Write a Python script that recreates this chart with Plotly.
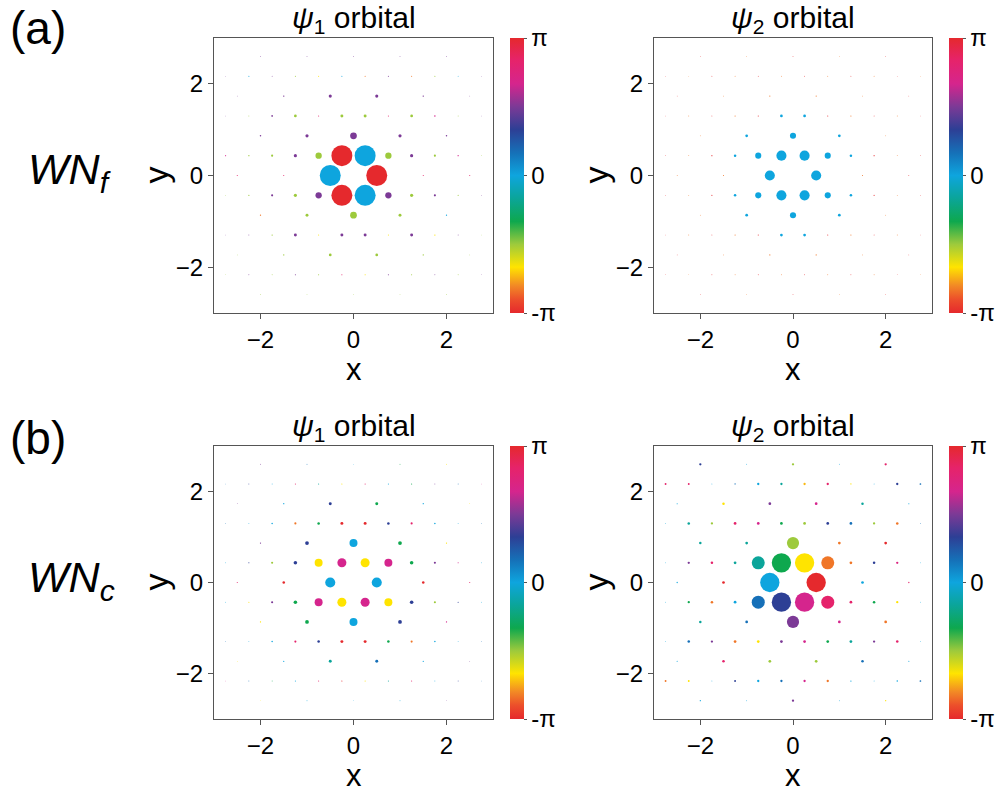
import math
import plotly.graph_objects as go

# ---------------- lattice rows (kagome sites) ----------------
ROW_K = [6, 5, 4, 3, 2, 1, 0, -1, -2, -3, -4, -5, -6]
ROW_DY = 0.4330
X_ODD = [-2.75, -2.25, -1.75, -1.25, -0.75, -0.25, 0.25, 0.75, 1.25, 1.75, 2.25, 2.75]
X_MOD0 = [-2.5, -1.5, -0.5, 0.5, 1.5, 2.5]
X_MOD2 = [-2, -1, 0, 1, 2]

# ---------------- amplitudes and phases, row by row ----------------
A1_AMP = [
    [0.04, 0.04, 0.04, 0.04, 0.04],
    [0.03, 0.05, 0.04, 0.05, 0.05, 0.05, 0.05, 0.05, 0.05, 0.05, 0.04, 0.03],
    [0.03, 0.07, 0.15, 0.15, 0.07, 0.03],
    [0.03, 0.04, 0.08, 0.13, 0.05, 0.14, 0.14, 0.05, 0.13, 0.07, 0.04, 0.03],
    [0.07, 0.15, 0.32, 0.15, 0.07],
    [0.05, 0.06, 0.10, 0.15, 0.30, 1.00, 1.00, 0.30, 0.15, 0.10, 0.06, 0.03],
    [0.05, 0.05, 1.00, 1.00, 0.05, 0.05],
    [0.03, 0.06, 0.10, 0.15, 0.30, 1.00, 1.00, 0.30, 0.15, 0.10, 0.05, 0.03],
    [0.06, 0.14, 0.32, 0.14, 0.06],
    [0.03, 0.04, 0.06, 0.14, 0.05, 0.14, 0.14, 0.05, 0.14, 0.06, 0.04, 0.03],
    [0.03, 0.06, 0.13, 0.13, 0.06, 0.03],
    [0.03, 0.04, 0.04, 0.05, 0.05, 0.05, 0.05, 0.05, 0.05, 0.04, 0.04, 0.03],
    [0.04, 0.03, 0.03, 0.03, 0.04],
]
A1_PH = [
    [1.57, 1.57, 1.57, 1.57, 1.57],
    [1.57, 0.0, 1.57, -1.57, -2.09, 0.0, -2.62, 1.57, -2.62, -1.57, 0.0, 1.57],
    [1.57, 1.57, 1.57, 1.57, 1.57, 1.57],
    [1.57, -1.57, 1.57, -1.57, 2.62, -1.57, -1.57, 2.62, -1.57, 2.09, -1.57, 1.57],
    [1.57, 1.57, 1.57, 1.57, 1.57],
    [2.09, -1.57, -1.57, 1.57, -1.57, 3.14, 0.0, -1.57, 1.57, -1.57, 2.09, -1.57],
    [2.62, 2.62, 0.0, 3.14, 2.62, 2.62],
    [-1.57, -1.57, 1.57, -1.57, 1.57, 3.14, 0.0, 1.57, -1.57, 1.57, -1.57, 1.57],
    [-2.62, -1.57, -1.57, -1.57, 0.0],
    [1.57, 1.57, -1.57, 1.57, -2.09, 1.57, 1.57, -2.09, 1.57, -2.09, 1.57, -1.57],
    [-1.57, -1.57, -1.57, -1.57, -1.57, -1.57],
    [-1.57, 1.57, -1.57, 1.57, -1.57, 2.62, -2.09, 1.57, -1.57, 1.57, -1.57, 1.57],
    [-1.57, -1.57, -1.57, -1.57, -1.57],
]

A2_AMP = [
    [0.03, 0.03, 0.04, 0.03, 0.03],
    [0.03, 0.03, 0.04, 0.04, 0.04, 0.04, 0.04, 0.04, 0.04, 0.04, 0.03, 0.03],
    [0.03, 0.04, 0.05, 0.05, 0.04, 0.03],
    [0.03, 0.04, 0.04, 0.05, 0.05, 0.13, 0.13, 0.05, 0.05, 0.04, 0.04, 0.03],
    [0.04, 0.13, 0.29, 0.13, 0.04],
    [0.03, 0.04, 0.05, 0.12, 0.29, 0.48, 0.48, 0.29, 0.12, 0.05, 0.04, 0.03],
    [0.04, 0.05, 0.48, 0.48, 0.05, 0.04],
    [0.03, 0.04, 0.05, 0.12, 0.29, 0.48, 0.48, 0.29, 0.12, 0.05, 0.04, 0.03],
    [0.04, 0.13, 0.29, 0.13, 0.04],
    [0.03, 0.04, 0.04, 0.05, 0.05, 0.13, 0.13, 0.05, 0.05, 0.04, 0.04, 0.03],
    [0.03, 0.04, 0.05, 0.05, 0.04, 0.03],
    [0.03, 0.03, 0.04, 0.04, 0.04, 0.04, 0.04, 0.04, 0.04, 0.04, 0.03, 0.03],
    [0.03, 0.03, 0.04, 0.03, 0.03],
]
A2_PH = [
    [3.14, -2.62, 3.14, -2.62, 3.14],
    [3.14, -2.62, 3.14, -2.62, 3.14, -2.62, 3.14, -2.62, 3.14, -2.62, 3.14, -2.62],
    [3.14, -2.62, -2.62, -2.62, -2.62, 3.14],
    [3.14, -2.62, 3.14, -2.62, 3.14, 0.0, 0.0, 3.14, -2.62, 3.14, -2.62, 3.14],
    [-2.62, 0.0, 0.0, 0.0, -2.62],
    [3.14, -2.62, 3.14, 0.0, 0.0, 0.0, 0.0, 0.0, 0.0, 3.14, -2.62, 3.14],
    [-2.62, -2.62, 0.0, 0.0, -2.62, 3.14],
    [3.14, -2.62, 3.14, 0.0, 0.0, 0.0, 0.0, 0.0, 0.0, 3.14, -2.62, 3.14],
    [-2.62, 0.0, 0.0, 0.0, -2.62],
    [3.14, -2.62, 3.14, -2.62, 3.14, 0.0, 0.0, 3.14, -2.62, 3.14, -2.62, 3.14],
    [3.14, -2.62, -2.62, -2.62, -2.62, 3.14],
    [3.14, -2.62, 3.14, -2.62, 3.14, -2.62, 3.14, -2.62, 3.14, -2.62, 3.14, -2.62],
    [3.14, -2.62, 3.14, -2.62, 3.14],
]

B1_AMP = [
    [0.04, 0.04, 0.03, 0.04, 0.04],
    [0.03, 0.04, 0.04, 0.05, 0.05, 0.05, 0.05, 0.05, 0.05, 0.04, 0.04, 0.03],
    [0.03, 0.06, 0.14, 0.14, 0.06, 0.03],
    [0.03, 0.04, 0.07, 0.10, 0.12, 0.14, 0.14, 0.12, 0.10, 0.07, 0.04, 0.03],
    [0.06, 0.18, 0.38, 0.18, 0.06],
    [0.04, 0.05, 0.10, 0.17, 0.38, 0.43, 0.43, 0.38, 0.17, 0.10, 0.05, 0.04],
    [0.05, 0.12, 0.48, 0.48, 0.12, 0.05],
    [0.04, 0.05, 0.10, 0.17, 0.38, 0.43, 0.43, 0.38, 0.17, 0.10, 0.05, 0.04],
    [0.06, 0.18, 0.38, 0.18, 0.06],
    [0.03, 0.04, 0.07, 0.10, 0.12, 0.14, 0.14, 0.12, 0.10, 0.07, 0.04, 0.03],
    [0.03, 0.06, 0.14, 0.14, 0.06, 0.03],
    [0.03, 0.04, 0.04, 0.05, 0.05, 0.05, 0.05, 0.05, 0.05, 0.04, 0.04, 0.03],
    [0.03, 0.04, 0.03, 0.04, 0.03],
]
B1_PH = [
    [1.57, 0.52, 0.0, -1.05, -2.09],
    [0.52, 1.05, 0.0, 2.62, -0.52, -2.09, 2.62, 0.0, -1.05, 1.57, 0.52, 2.09],
    [1.57, 0.0, 1.05, -1.05, 0.0, -2.09],
    [0.52, 0.0, 0.0, -2.62, -1.05, 3.14, 3.14, 1.05, 2.62, 0.0, 0.0, 0.52],
    [1.57, 1.05, 0.0, -1.05, -2.09],
    [0.0, 1.05, -1.57, 1.05, -2.09, 2.09, -2.09, 2.09, -1.05, 1.57, 2.09, 0.0],
    [2.62, 3.14, 0.0, 0.0, 3.14, 2.62],
    [0.0, -2.09, 1.57, -1.05, 2.09, -2.09, 2.09, -2.09, 1.05, -1.57, 1.05, 0.0],
    [-2.09, -1.05, 0.0, 1.05, 2.09],
    [0.52, 0.0, 0.0, 2.62, 1.05, 3.14, 3.14, -1.05, -2.62, 0.0, 0.0, 0.52],
    [-2.09, 0.0, -0.52, 0.52, 0.0, 1.57],
    [2.09, 0.52, -1.05, 0.0, 2.62, 3.14, -2.09, -0.52, 2.62, 0.0, 1.05, 0.52],
    [-2.09, 0.0, 0.0, 0.0, 1.57],
]

B2_AMP = [
    [0.11, 0.04, 0.11, 0.04, 0.11],
    [0.09, 0.09, 0.04, 0.06, 0.11, 0.11, 0.11, 0.11, 0.06, 0.04, 0.11, 0.08],
    [0.05, 0.12, 0.13, 0.13, 0.12, 0.05],
    [0.04, 0.12, 0.11, 0.13, 0.13, 0.13, 0.13, 0.13, 0.13, 0.11, 0.12, 0.04],
    [0.12, 0.13, 0.58, 0.13, 0.13],
    [0.04, 0.11, 0.12, 0.13, 0.62, 0.92, 0.92, 0.62, 0.13, 0.12, 0.11, 0.04],
    [0.06, 0.13, 0.92, 0.92, 0.13, 0.06],
    [0.04, 0.11, 0.12, 0.13, 0.62, 0.92, 0.92, 0.62, 0.13, 0.12, 0.11, 0.04],
    [0.12, 0.13, 0.58, 0.13, 0.13],
    [0.04, 0.12, 0.11, 0.13, 0.13, 0.13, 0.13, 0.13, 0.13, 0.11, 0.12, 0.04],
    [0.05, 0.12, 0.13, 0.13, 0.12, 0.05],
    [0.09, 0.09, 0.04, 0.09, 0.11, 0.11, 0.11, 0.11, 0.06, 0.04, 0.07, 0.08],
    [0.06, 0.04, 0.11, 0.04, 0.06],
]
B2_PH = [
    [1.05, 0.0, -1.57, 0.0, 2.62],
    [2.62, 2.62, 0.0, 0.52, 0.0, -0.52, -2.3, 2.62, -2.09, 0.0, 1.05, 0.52],
    [0.0, -2.09, 1.57, 2.09, -0.52, 0.0],
    [0.0, -0.52, -1.57, 2.62, 2.09, -1.05, -1.57, 1.05, 0.52, -1.57, -2.62, 0.52],
    [-0.52, -0.52, -1.57, -2.62, 3.14],
    [0.0, 1.57, 2.62, -0.52, -0.52, -1.05, -2.09, -2.62, -2.62, 1.05, 2.3, 0.0],
    [0.0, 3.14, 0.0, 3.14, 0.0, 2.62],
    [0.0, -1.05, -2.62, 0.0, 0.52, 1.05, 2.09, 2.62, 2.62, -1.05, -2.09, 0.0],
    [-0.52, 0.52, 1.57, 2.09, -2.62],
    [0.0, 0.52, 1.57, -2.62, -2.09, 1.57, 2.09, -1.05, -0.52, 1.57, 2.62, 0.0],
    [0.0, 2.62, -1.57, -1.57, 0.52, 0.0],
    [-2.62, -2.09, 0.0, 1.05, 0.0, 0.52, 2.09, -2.62, 0.0, 0.0, 0.0, 0.52],
    [0.0, 0.0, 1.57, 0.0, -2.09],
]

AXIS_TICKS = [-2, 0, 2]
CB_TICKTEXT = ["-π", "0", "π"]
TITLES = ["<i>ψ</i><sub>1</sub> orbital", "<i>ψ</i><sub>2</sub> orbital"]

# ---------------- styling ----------------
FONT = "Liberation Sans, Arial, Helvetica, sans-serif"
SIZE_SCALE = 21.0
W, H = 1002, 793
CSCALE = [
    [0.0, "#e5292d"], [0.05, "#ec4f2b"], [0.10, "#f28a25"], [0.167, "#ffe400"],
    [0.25, "#9dca3c"], [0.333, "#0ea84e"], [0.42, "#0ba59c"], [0.5, "#0ea5de"],
    [0.58, "#1572b9"], [0.667, "#2d3f95"], [0.75, "#7c3a96"], [0.833, "#d5258d"],
    [0.92, "#e6236a"], [1.0, "#e5292d"],
]


def row_x(k):
    if k % 2 != 0:
        return X_ODD
    return X_MOD0 if k % 4 == 0 else X_MOD2


def flatten(amp_rows, ph_rows):
    xs, ys, amps, phs = [], [], [], []
    for k, arow, prow in zip(ROW_K, amp_rows, ph_rows):
        for x, a, p in zip(row_x(k), arow, prow):
            xs.append(x)
            ys.append(k * ROW_DY)
            amps.append(a)
            phs.append(p)
    return xs, ys, amps, phs


# pixel boxes of the four panels (left, top, right, bottom)
PANELS = [
    ("x", "y", (214, 38, 493, 313), A1_AMP, A1_PH, 0),
    ("x2", "y2", (654, 38, 932, 313), A2_AMP, A2_PH, 1),
    ("x3", "y3", (214, 446, 493, 719), B1_AMP, B1_PH, 0),
    ("x4", "y4", (654, 446, 932, 719), B2_AMP, B2_PH, 1),
]

fig = go.Figure()
annotations = []
layout_axes = {}

for i, (xa, ya, box, amp_rows, ph_rows, ti) in enumerate(PANELS):
    l, t, r, b = box
    xs, ys, amps, phs = flatten(amp_rows, ph_rows)
    cb_center = 1 - (t + b) / 2 / H
    fig.add_trace(go.Scatter(
        x=xs, y=ys, mode="markers", xaxis=xa, yaxis=ya, hoverinfo="skip",
        marker=dict(
            size=[SIZE_SCALE * a for a in amps], color=phs,
            colorscale=CSCALE, cmin=-math.pi, cmax=math.pi,
            line=dict(width=0), opacity=1,
            showscale=True,
            colorbar=dict(
                x=(r + 17) / W, xanchor="left", xpad=0, ypad=0,
                y=cb_center, yanchor="middle", len=(b - t) / H, lenmode="fraction",
                thickness=14, thicknessmode="pixels", outlinewidth=0,
                tickvals=[-math.pi, 0, math.pi], ticktext=CB_TICKTEXT,
                ticks="outside", ticklen=3, tickcolor="#555",
                tickfont=dict(family=FONT, size=24, color="black"),
            ),
        ),
        showlegend=False,
    ))
    n = "" if i == 0 else str(i + 1)
    common = dict(
        range=[-3, 3], tickvals=AXIS_TICKS, ticks="outside", ticklen=5,
        tickcolor="#555", showline=True, mirror=True, linecolor="#555", linewidth=1,
        showgrid=False, zeroline=False,
        tickfont=dict(family=FONT, size=24, color="black"),
    )
    layout_axes["xaxis" + n] = dict(common, domain=[l / W, r / W], anchor=ya)
    layout_axes["yaxis" + n] = dict(common, domain=[1 - b / H, 1 - t / H], anchor=xa)

    cx = (l + r) / 2 / W
    annotations.append(dict(text=TITLES[ti], x=cx, y=1 - (t - 19) / H, xref="paper", yref="paper",
                            xanchor="center", yanchor="middle", showarrow=False,
                            font=dict(family=FONT, size=30, color="black")))
    annotations.append(dict(text="x", x=cx, y=1 - (b + 56) / H, xref="paper", yref="paper",
                            xanchor="center", yanchor="middle", showarrow=False,
                            font=dict(family=FONT, size=31, color="black")))
    annotations.append(dict(text="y", x=(l - 59) / W, y=1 - (t + b) / 2 / H, xref="paper", yref="paper",
                            xanchor="center", yanchor="middle", showarrow=False, textangle=-90,
                            font=dict(family=FONT, size=34, color="black")))

annotations += [
    dict(text="(a)", x=8 / W, y=1 - 0 / H, xref="paper", yref="paper", xanchor="left", yanchor="top",
         showarrow=False, font=dict(family=FONT, size=46, color="black")),
    dict(text="(b)", x=8 / W, y=1 - 410 / H, xref="paper", yref="paper", xanchor="left", yanchor="top",
         showarrow=False, font=dict(family=FONT, size=46, color="black")),
    dict(text="<i>WN<sub>f</sub></i>", x=26 / W, y=1 - 172 / H, xref="paper", yref="paper",
         xanchor="left", yanchor="middle", showarrow=False, font=dict(family=FONT, size=43, color="black")),
    dict(text="<i>WN<sub>c</sub></i>", x=26 / W, y=1 - 580 / H, xref="paper", yref="paper",
         xanchor="left", yanchor="middle", showarrow=False, font=dict(family=FONT, size=43, color="black")),
]

fig.update_layout(
    width=W, height=H, margin=dict(l=0, r=0, t=0, b=0),
    paper_bgcolor="white", plot_bgcolor="white",
    annotations=annotations, showlegend=False, **layout_axes,
)

fig.write_html("out.html")
